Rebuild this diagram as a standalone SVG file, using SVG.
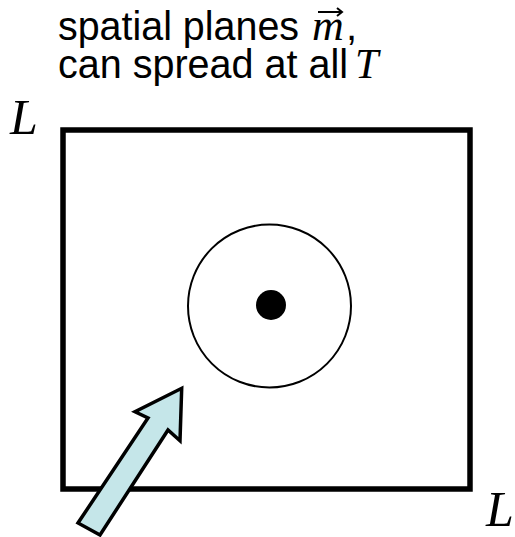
<svg xmlns="http://www.w3.org/2000/svg" width="515" height="537" viewBox="0 0 515 537">
<style>
.t{font-family:"Liberation Sans","DejaVu Sans",sans-serif;font-size:40px;fill:#000}
.m{font-family:"Liberation Serif","DejaVu Serif",serif;font-style:italic;fill:#000}
</style>
<rect width="515" height="537" fill="#fff"/>
<g id="label">
<text class="t" x="58" y="40" textLength="241" lengthAdjust="spacingAndGlyphs">spatial planes</text>
<text class="m" x="312" y="40" font-size="44">m</text>
<text class="t" x="346" y="40">,</text>
<text class="t" x="58" y="78" textLength="290" lengthAdjust="spacingAndGlyphs">can spread at all</text>
<text class="m" x="355" y="78" font-size="42">T</text>
<path d="M318 12 H342 M337 8 L342 12 L337 16" fill="none" stroke="#000" stroke-width="2"/>
</g>
<g id="box">
<rect x="63" y="130" width="407" height="359" fill="none" stroke="#000" stroke-width="5.5"/>
</g>
<g id="Ltop"><text class="m" x="10" y="134" font-size="50">L</text></g>
<g id="Lbottom"><text class="m" x="486" y="526" font-size="50">L</text></g>
<g id="ring"><circle cx="269.5" cy="306" r="81.5" fill="none" stroke="#000" stroke-width="2"/></g>
<g id="dot"><circle cx="271" cy="305" r="15" fill="#000"/></g>
<g id="connectors">
<polygon points="181.7,388.3 180,440.7 168,430 100,535 78,523 148,418 135,411.7" fill="#c5e6e9" stroke="#000" stroke-width="3.5" stroke-linejoin="miter"/>
</g>
</svg>
